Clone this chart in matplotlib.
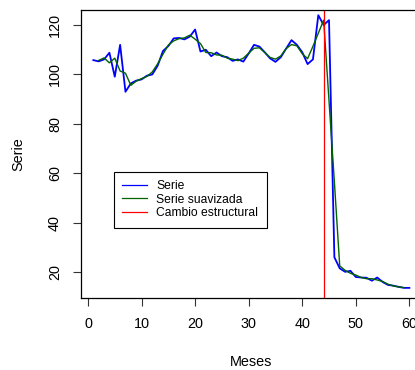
import matplotlib
matplotlib.use("Agg")
import matplotlib.pyplot as plt

# datos
meses = list(range(1, 61))
serie = [105.8, 105.3, 106.1, 108.8, 99.1, 112.0, 93.0, 96.4, 97.5, 98.0,
         99.5, 100.0, 103.5, 109.5, 111.5, 114.6, 114.8, 114.2, 115.3, 118.2,
         109.3, 110.0, 107.4, 108.9, 107.4, 107.0, 105.5, 106.1, 105.2, 108.5,
         112.0, 111.3, 109.0, 106.5, 105.1, 107.0, 110.5, 113.9, 112.0, 109.0,
         104.2, 106.1, 124.0, 120.0, 122.0, 26.0, 21.5, 20.1, 20.5, 18.0,
         17.8, 17.7, 16.5, 17.8, 16.0, 14.8, 14.5, 14.0, 13.6, 13.6]
meses_suav = list(range(2, 60))
suavizada = [105.7, 106.7, 104.7, 106.6, 101.4, 100.5, 95.6, 97.3, 98.3,
             99.2, 101.0, 104.3, 108.2, 111.9, 113.6, 114.5, 114.8, 115.9, 114.3,
             112.5, 108.9, 108.8, 107.9, 107.8, 106.6, 106.2, 105.6, 106.6, 108.6,
             110.6, 110.8, 108.9, 106.9, 106.2, 107.5, 110.5, 112.1, 111.6, 108.4,
             106.4, 111.4, 116.7, 122.0, 89.3, 56.5, 22.5, 20.7, 19.5, 18.8,
             17.8, 17.3, 17.3, 16.8, 16.2, 15.1, 14.4, 14.0, 13.7]
cambio = 44
xticks = [0, 10, 20, 30, 40, 50, 60]
yticks = [20, 40, 60, 80, 100, 120]

plt.rcParams['font.family'] = ['Liberation Sans', 'DejaVu Sans']

W, H = 415, 370
fig = plt.figure(figsize=(W / 100, H / 100), dpi=100)
ax = fig.add_axes([80.7 / W, 72 / H, (422 - 80.7) / W, 288 / H])

ax.plot(meses, serie, color='blue', lw=1.3, label='Serie')
ax.plot(meses_suav, suavizada, color='darkgreen', lw=1.0, label='Serie suavizada')
ax.axvline(cambio, color='red', lw=0.9, label='Cambio estructural')

ax.set_xlim(-1.36, 62.36)
ax.set_ylim(9.5, 126.1)
ax.set_xticks(xticks)
ax.set_yticks(yticks)
ax.tick_params(direction='out', length=5.5, width=0.8, labelsize=10.4, color='#333333')
ax.tick_params(axis='x', pad=8)
ax.tick_params(axis='y', pad=8)
for lab in ax.get_yticklabels():
    lab.set_rotation(90)
    lab.set_va('center')
for s in ax.spines.values():
    s.set_linewidth(0.9)
    s.set_color('black')

fig.text(251.4 / W, 1 - 361.7 / H, 'Meses', ha='center', va='center', fontsize=10.4)
fig.text(18.3 / W, 1 - 154 / H, 'Serie', ha='center', va='center', fontsize=10.4, rotation=90)

leg = ax.legend(loc='upper left', bbox_to_anchor=(0.0976, 0.4385), borderaxespad=0,
                fancybox=False, edgecolor='black', framealpha=1, fontsize=8.7,
                handlelength=2.0, handletextpad=0.8, labelspacing=0.12, borderpad=0.7)
leg.get_frame().set_linewidth(0.8)
for h in leg.get_lines():
    h.set_linewidth(0.9)

fig.savefig('out.png', dpi=100)
